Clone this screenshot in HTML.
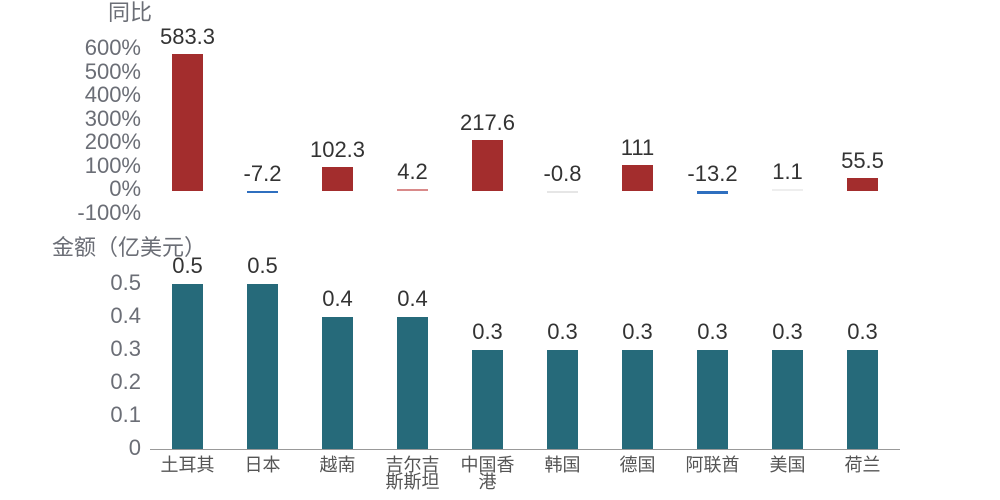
<!DOCTYPE html><html><head><meta charset="utf-8"><style>
body{margin:0;width:1000px;height:500px;background:#fff;position:relative;overflow:hidden;font-family:"Liberation Sans","Noto Sans CJK SC",sans-serif}
.t{position:absolute;font-size:22px;color:#6b6e76;line-height:22px;white-space:nowrap}
.r{text-align:right;width:100px}
.v{position:absolute;font-size:22px;color:#333;width:90px;text-align:center;line-height:22px}
.b{position:absolute;width:31px}
.c{position:absolute;font-size:18px;color:#555;width:75px;text-align:center;line-height:17px}
</style></head><body>
<div class="t" style="left:108px;top:2px">同比</div>
<div class="t" style="left:52px;top:237px">金额（亿美元）</div>
<div id="a"></div>
<script>
let h='';
const ty=['600%','500%','400%','300%','200%','100%','0%','-100%'];
ty.forEach((s,i)=>{h+=`<div class="t r" style="left:41px;top:${37+i*23.5}px">${s}</div>`});
const by=['0.5','0.4','0.3','0.2','0.1','0'];
by.forEach((s,i)=>{h+=`<div class="t r" style="left:41px;top:${272+i*33}px">${s}</div>`});
const yoy=[583.3,-7.2,102.3,4.2,217.6,-0.8,111,-13.2,1.1,55.5];
const amt=[0.5,0.5,0.4,0.4,0.3,0.3,0.3,0.3,0.3,0.3];
const cat=['土耳其','日本','越南','吉尔吉<br>斯斯坦','中国香<br>港','韩国','德国','阿联酋','美国','荷兰'];
yoy.forEach((v,i)=>{const cx=187.5+i*75;let hh=Math.max(Math.abs(v)*0.235,2);let top=v>=0?191-hh:191;
let col=v>=0?(v<2?'#eee':v<10?'#d98a8a':'#a32d2d'):(v<-5?'#2f6fbf':'#e6e6e6');
h+=`<div class="b" style="left:${cx-15.5}px;top:${top}px;height:${hh}px;background:${col}"></div>`;
h+=`<div class="v" style="left:${cx-45}px;top:${(v>=0?top:191)-28}px">${v}</div>`;
const ah=amt[i]*330;h+=`<div class="b" style="left:${cx-15.5}px;top:${449-ah}px;height:${ah}px;background:#266a7a"></div>`;
h+=`<div class="v" style="left:${cx-45}px;top:${449-ah-29}px">${amt[i]}</div>`;
h+=`<div class="c" style="left:${cx-37.5}px;top:457px">${cat[i]}</div>`;});
h+='<div style="position:absolute;left:150px;top:449px;width:750px;height:1px;background:#999"></div>';
document.getElementById('a').innerHTML=h;
</script></body></html>
